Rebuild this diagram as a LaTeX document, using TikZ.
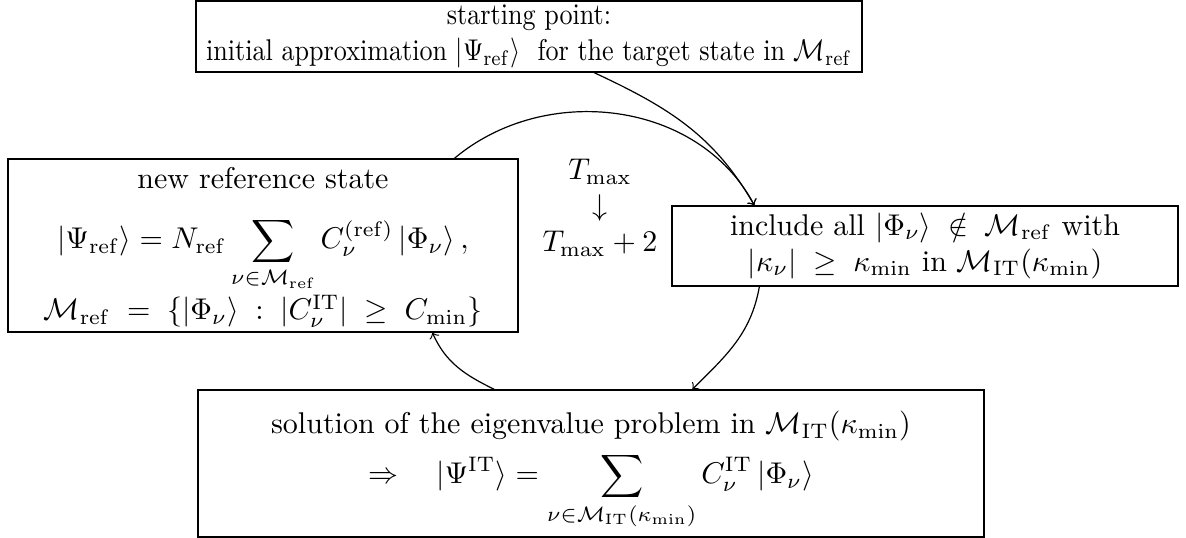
\documentclass[tikz,border=0pt]{standalone}
\usepackage{amsmath,amssymb}
\usetikzlibrary{calc}
\begin{document}
\begin{tikzpicture}[x=0.3333pt,y=0.3333pt,
  box/.style={draw,line width=0.4pt,inner sep=0pt,align=center},
  txt/.style={inner sep=0pt,anchor=base},
  link/.style={->,line width=0.4pt}]
\useasboundingbox (0,0) rectangle (1186,538);
\node[box,minimum width=222pt,minimum height=23.67pt] (top) at (529,501.5)
  {\scalebox{0.87}[1]{starting point:}\\ \scalebox{0.87}[1]{initial approximation $|\Psi_{\mathrm{ref}}\rangle$\ \ for the target state in $\mathcal{M}_{\mathrm{ref}}$}};
\node[box,minimum width=170pt,minimum height=57.67pt] (left) at (263,292.5) {};
\node[txt] (l1) at (263,349) {new reference state};
\node[txt] (l2) at (263,289)
  {$\displaystyle |\Psi_{\mathrm{ref}}\rangle = N_{\mathrm{ref}}\sum_{\nu\in\mathcal{M}_{\mathrm{ref}}} C_\nu^{(\mathrm{ref})}\,|\Phi_\nu\rangle\,,$};
\node[txt] (l3) at (263,218)
  {$\mathcal{M}_{\mathrm{ref}}\;=\;\{|\Phi_\nu\rangle\;:\;|C_\nu^{\mathrm{IT}}|\;\ge\;C_{\min}\}$};
\node[box,minimum width=168.67pt,minimum height=26.67pt] (right) at (925,292)
  {include all $|\Phi_\nu\rangle\;\notin\;\mathcal{M}_{\mathrm{ref}}$ with\\
   $|\kappa_\nu|\;\ge\;\kappa_{\min}$ in $\mathcal{M}_{\mathrm{IT}}(\kappa_{\min})$};
\node[box,minimum width=262pt,minimum height=49pt] (bottom) at (591,74.5) {};
\node[txt] (b1t) at (591,104)
  {solution of the eigenvalue problem in $\mathcal{M}_{\mathrm{IT}}(\kappa_{\min})$};
\node[txt] (b2t) at (591,54)
  {$\displaystyle \Rightarrow\quad |\Psi^{\mathrm{IT}}\rangle = \sum_{\nu\in\mathcal{M}_{\mathrm{IT}}(\kappa_{\min})} C_\nu^{\mathrm{IT}}\,|\Phi_\nu\rangle$};
\node[inner sep=0pt,align=center] (mid) at (600,330)
  {$T_{\max}$\\ $\downarrow$\\ $T_{\max}+2$};
\coordinate (a1) at ($(top.south)+(65,0)$);
\coordinate (a2) at ($(right.north west)+(83,0)$);
\coordinate (b1) at ($(left.north west)+(447,0)$);
\coordinate (c1) at ($(right.south west)+(88,0)$);
\coordinate (c2) at ($(bottom.north west)+(495,0)$);
\coordinate (d1) at ($(bottom.north west)+(297,0)$);
\coordinate (d2) at ($(left.south west)+(425,0)$);
\draw[link] (a1) to[out=-25,in=120] (a2);
\draw[link] (b1) to[out=40,in=118] (a2);
\draw[link] (c1) to[out=-100,in=45] (c2);
\draw[link] (d1) to[out=154,in=-66] (d2);
\end{tikzpicture}
\end{document}
